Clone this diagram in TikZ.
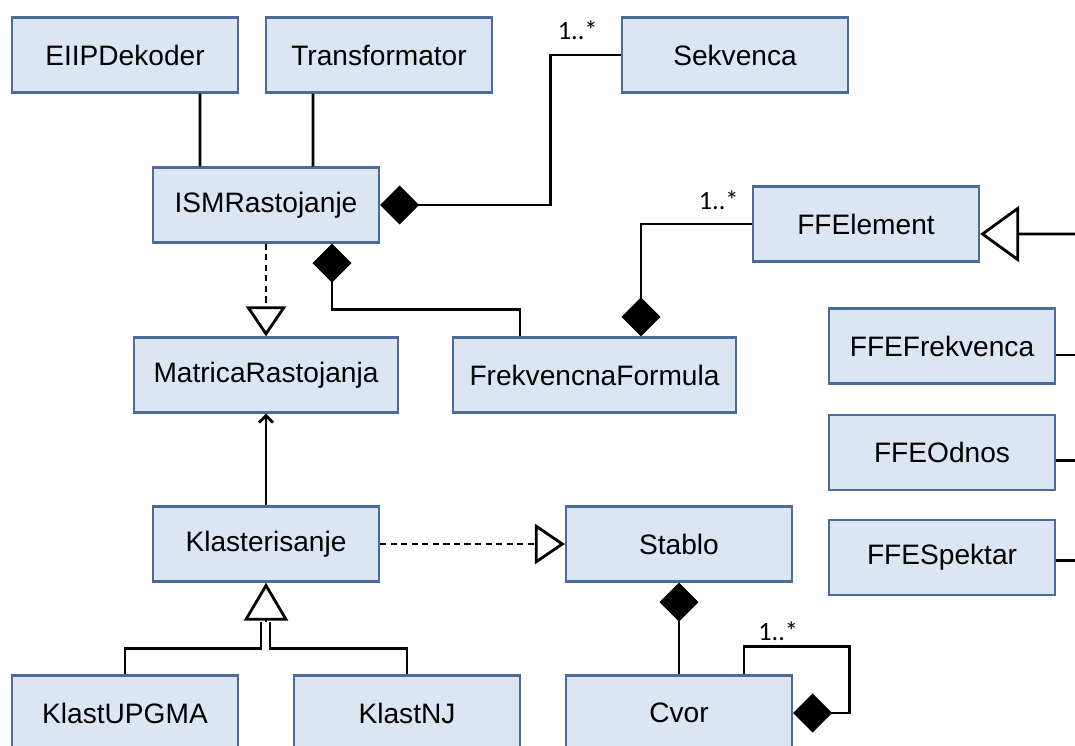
\documentclass[tikz,border=0pt]{standalone}
\usepackage{fontspec}
\setmainfont{Liberation Sans}
\newfontfamily\multfont{Carlito}
\usetikzlibrary{arrows.meta,positioning}
\definecolor{boxfill}{RGB}{220,230,242}
\definecolor{boxline}{RGB}{74,108,155}

\begin{document}
\begin{tikzpicture}[
x=0.02cm, y=-0.02cm,
block/.style={draw=boxline, fill=boxfill, line width=1.3pt, minimum width=4.52cm, minimum height=1.5cm, inner sep=0pt, font=\fontsize{16}{19}\selectfont},
conn/.style={line width=1.6pt},
comp/.style={conn, {Diamond[length=0.78cm, width=0.78cm]}-},
gen/.style={conn, -{Triangle[fill=white, length=0.76cm, width=0.88cm]}},
real/.style={conn, dash pattern=on 3.5pt off 2.5pt, -{Triangle[fill=white, length=0.6cm, width=0.8cm]}},
assoc/.style={conn, -{Straight Barb[length=4pt, width=8pt]}},
mult/.style={inner sep=0pt, font=\multfont\fontsize{15}{17}\selectfont}
]
\useasboundingbox (0,0) rectangle (1075,745);
\clip (0,0) rectangle (1075,745);

% -------- Classes --------
\node[block] (eiip) at (125,55) {EIIPDekoder};
\node[block] (transf) at (379,55) {Transformator};
\node[block] (sekv) at (735,55) {Sekvenca};
\node[block] (ism) at (266,205) {ISMRastojanje};
\node[block] (ffel) at (866,224) {FFElement};
\node[block, minimum width=5.28cm] (mat) at (266,375) {MatricaRastojanja};
\node[block, minimum width=5.66cm] (frek) at (594.5,375) {FrekvencnaFormula};

\node[block] (fffrek) at (942,346) {FFEFrekvenca};
\node[block, below=0.58cm of fffrek] (ffodn) {FFEOdnos};
\node[block, below=0.56cm of ffodn] (ffspek) {FFESpektar};

\node[block] (klas) at (266,544) {Klasterisanje};
\node[block] (stablo) at (679,544) {Stablo};
\node[block] (upgma) at (125,713) {KlastUPGMA};
\node[block] (nj) at (407,713) {KlastNJ};
\node[block] (cvor) at (679,713) {Cvor};

% -------- ISMRastojanje --------
\draw[conn] ([xshift=1.5cm]eiip.south) -- ([xshift=-1.32cm]ism.north);
\draw[conn] ([xshift=-1.32cm]transf.south) -- ([xshift=0.94cm]ism.north);
\draw[comp] (ism.east) -- ++(170,0) |- (sekv.west);
\node[mult, above left=0.3cm and 0.46cm of sekv.west] (m1) {1..*};

\draw[real] (ism.south) -- (mat.north);
\draw[comp] ([xshift=1.32cm]ism.south) -- ++(0,66) -| ([xshift=-1.49cm]frek.north);

% -------- Formula --------
\draw[comp] ([xshift=0.93cm]frek.north) |- (ffel.west);
\node[mult, above left=0.28cm and 0.26cm of ffel.west] (m2) {1..*};

\coordinate (ffin) at (1080,234);
\draw[gen, -{Triangle[fill=white, length=0.78cm, width=1.12cm]}] (ffin) -- ([yshift=-0.2cm]ffel.east);
\draw[conn] ([yshift=-0.18cm]fffrek.east) -- ++(30,0);
\draw[conn] ([yshift=-0.16cm]ffodn.east) -- ++(30,0);
\draw[conn] ([yshift=-0.06cm]ffspek.east) -- ++(30,0);

% -------- Klasterisanje --------
\draw[assoc] (klas.north) -- (mat.south);
\draw[real] (klas.east) -- (stablo.west);

\coordinate[below=0.78cm of klas.south] (genbase);
\draw[gen] (genbase) -- (klas.south);
\draw[conn] ([xshift=-0.1cm]genbase) -- ++(0,27) -| (upgma.north);
\draw[conn] ([xshift=0.08cm]genbase) -- ++(0,27) -| (nj.north);

% -------- Stablo --------
\draw[comp] (stablo.south) -- (cvor.north);
\coordinate (loop) at ([xshift=1.3cm, yshift=0.56cm]cvor.north);
\draw[comp] (cvor.east) -- ++(56,0) |- (loop) -- (loop |- cvor.north);
\node[mult, above right=0.1cm and 0.28cm of loop] (m3) {1..*};

\end{tikzpicture}
\end{document}
